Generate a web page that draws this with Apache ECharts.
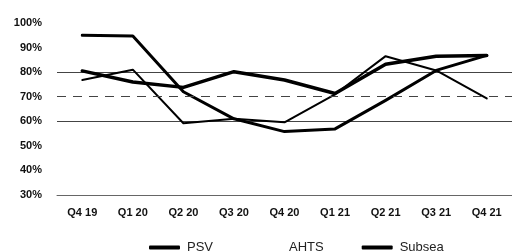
<!DOCTYPE html>
<html>
<head>
<meta charset="utf-8">
<script src="https://cdn.jsdelivr.net/npm/echarts@6/dist/echarts.min.js"></script>
<style>
  html, body { margin: 0; padding: 0; background: #fff; }
  #chart { width: 512px; height: 251px; }
</style>
</head>
<body>
<div id="chart"></div>
<script>
// quarters on the x axis
const quarters = ['Q4 19', 'Q1 20', 'Q2 20', 'Q3 20', 'Q4 20', 'Q1 21', 'Q2 21', 'Q3 21', 'Q4 21'];

// utilisation, %
const psv = [95, 94.7, 72, 61, 55.8, 56.9, 68.5, 80.7, 86.8];
const ahts = [76.8, 81, 59.2, 61, 59.6, 71, 86.5, 80.7, 69.3];
const subsea = [80.5, 76, 73.8, 80.2, 76.8, 71.3, 83.2, 86.5, 86.8];

const chart = echarts.init(document.getElementById('chart'));

const lineSeries = (name, data, width) => ({
    name: name,
    type: 'line',
    data: data,
    symbol: 'none',
    smooth: false,
    color: '#000',
    lineStyle: { color: '#000', width: width, join: 'round', cap: 'round' }
});

const option = {
    animation: false,
    grid: { left: 57, right: -7, top: 23, bottom: 56 },
    legend: {
        left: 144,
        top: 236,
        itemWidth: 31,
        itemHeight: 4,
        itemGap: 38,
        icon: 'roundRect',
        textStyle: { fontFamily: 'Liberation Sans', fontSize: 13, color: '#222', padding: [0, 0, 0, 2] },
        data: [
            { name: 'PSV', itemStyle: { color: '#000' } },
            { name: 'AHTS', itemStyle: { color: 'transparent' } },
            { name: 'Subsea', itemStyle: { color: '#000' } }
        ]
    },
    xAxis: {
        type: 'category',
        data: quarters,
        boundaryGap: true,
        axisTick: { show: false },
        axisLine: { lineStyle: { color: '#666', width: 1 } },
        axisLabel: {
            interval: 0,
            margin: 12,
            fontFamily: 'Liberation Sans',
            fontWeight: 'bold',
            fontSize: 11,
            color: '#111'
        }
    },
    yAxis: {
        type: 'value',
        min: 30,
        max: 100,
        interval: 10,
        axisLine: { show: false },
        axisTick: { show: false },
        axisLabel: {
            formatter: '{value}%',
            margin: 15,
            fontFamily: 'Liberation Sans',
            fontWeight: 'bold',
            fontSize: 11,
            color: '#111'
        },
        splitLine: {
            lineStyle: {
                width: 1,
                color: ['transparent', 'transparent', 'transparent', '#444', 'transparent', '#444', 'transparent', 'transparent']
            }
        }
    },
    series: [
        lineSeries('PSV', psv, 3),
        lineSeries('AHTS', ahts, 2),
        Object.assign(lineSeries('Subsea', subsea, 3.5), {
            markLine: {
                silent: true,
                symbol: 'none',
                label: { show: false },
                lineStyle: { color: '#444', width: 1, type: [9, 7] },
                data: [{ yAxis: 70 }]
            }
        })
    ]
};

chart.setOption(option);
</script>
</body>
</html>
